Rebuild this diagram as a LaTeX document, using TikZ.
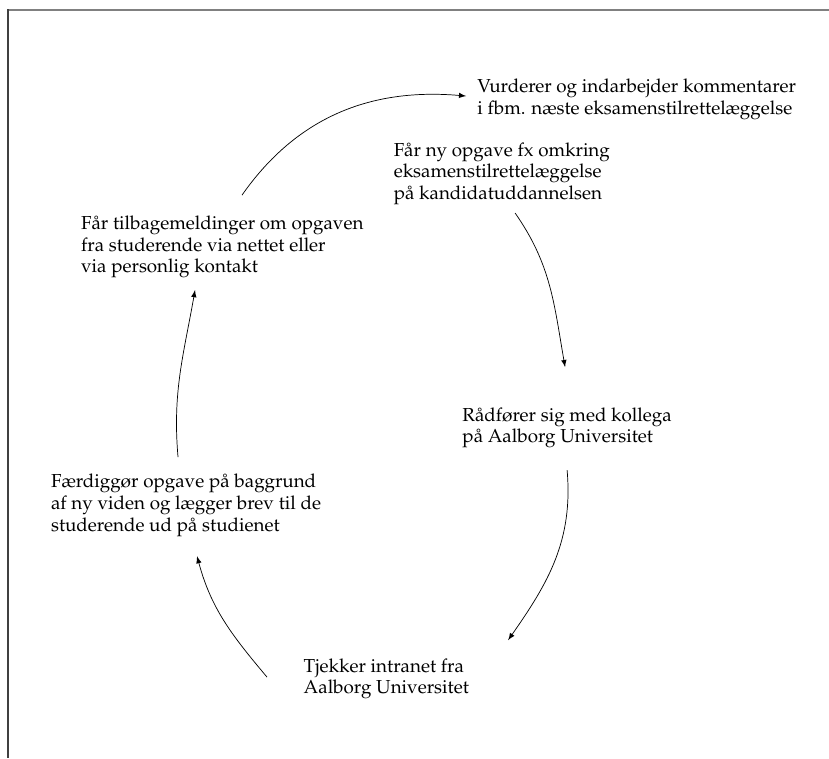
\documentclass[tikz,border=0pt]{standalone}
\usepackage[T1]{fontenc}
\usepackage{mathpazo}
\usetikzlibrary{arrows}

\begin{document}
\begin{tikzpicture}[trin/.style={anchor=north west,align=left,inner sep=0pt,font=\fontsize{10.5}{12.1}\selectfont},
  pil/.style={-latex}]
\useasboundingbox (0,0) rectangle (16.27,14.88);
% ramme
\draw [gray,line width=1.1pt](0.157,14.68) -- (16.27,14.68);
\draw [black!75,line width=1.1pt](0.157,14.70) -- (0.157,0);
% trin
\node [trin] (vurd) at (9.364,13.335) {Vurderer og indarbejder kommentarer\\i fbm. næste eksamenstilrettelæggelse};
\node [trin] (opgave) at (7.721,12.092) {Får ny opgave fx omkring\\eksamenstilrettelæggelse\\på kandidatuddannelsen};
\node [trin] (tilbage) at (1.584,10.653) {Får tilbagemeldinger om opgaven\\fra studerende via nettet eller\\via personlig kontakt};
\node [trin] (raad) at (9.069,6.890) {Rådfører sig med kollega\\på Aalborg Universitet};
\node [trin] (faerdig) at (0.995,5.581) {Færdiggør opgave på baggrund\\af ny viden og lægger brev til de\\studerende ud på studienet};
\node [trin] (tjek) at (5.954,1.963) {Tjekker intranet fra\\Aalborg Universitet};
% pile
\draw [pil]([shift={(2.389,-1.394)}]opgave.north west) to[out=-55,in=100] ([shift={(2.022,0.785)}]raad.north west);
\draw [pil]([shift={(2.061,-1.237)}]raad.north west) to[out=-85,in=55] ([shift={(4.018,0.353)}]tjek.north west);
\draw [pil]([shift={(-0.713,-0.373)}]tjek.north west) to[out=130,in=-75] ([shift={(2.872,-1.616)}]faerdig.north west);
\draw [pil]([shift={(2.499,0.328)}]faerdig.north west) to[out=95,in=-100] ([shift={(2.244,-1.466)}]tilbage.north west);
\draw [pil]([shift={(3.166,0.398)}]tilbage.north west) to[out=55,in=175] ([shift={(-0.216,-0.340)}]vurd.north west);
\end{tikzpicture}
\end{document}
